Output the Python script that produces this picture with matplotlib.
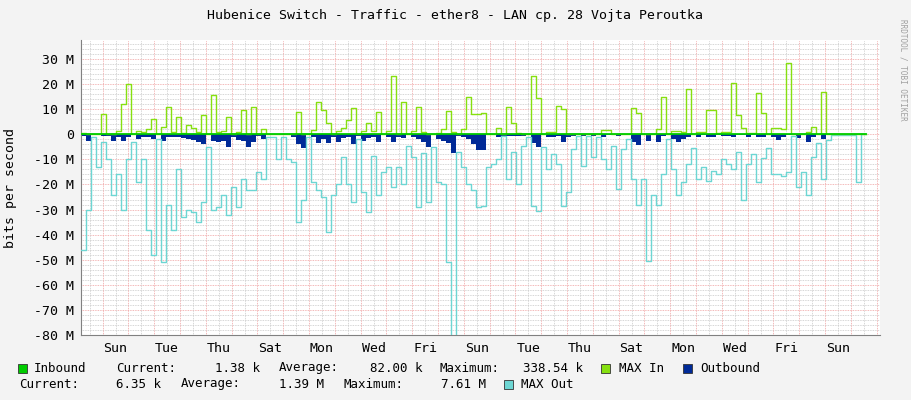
import matplotlib
matplotlib.use("Agg")
import matplotlib.pyplot as plt
from matplotlib.patches import Rectangle
import numpy as np

# values in Mbit/s, one sample per ~4.65 h
MAX_IN = [
    0.7, 0.3, 0, 0, 8, 0, 0.3, 1.3, 12, 20, 0, 1.3, 0.8, 2, 6.3, 0, 3, 11, 0.8, 6.8,
    0.4, 3.6, 2.5, 1, 7.6, 0, 15.6, 1, 1.3, 6.8, 0, 1, 9.6, 0, 11, 0, 2, 0, 0, 0, 0,
    0.3, 0, 8.8, 0, 0, 1.7, 12.8, 9.6, 4.4, 0, 1.3, 2.4, 5.7, 10.4, 0, 1.3, 4.4, 1.3, 8.8, 0,
    1.3, 23.3, 0, 12.8, 0, 1.3, 11, 1, 0, 0, 0.6, 2, 9.3, 1, 0, 2, 14.8, 8, 8,
    8.4, 0, 0, 2.4, 0, 10.8, 4.4, 0.4, 0, 0, 23.3, 14.4, 0, 0.8, 0.8, 11.3, 10, 0.3, 0.3, 0,
    0.3, 0, 0, 0, 1.7, 1.7, 0, 0, 0, 0, 10.4, 8.4, 0, 0, 0, 2, 14.8, 0, 1.3, 1.3,
    0.8, 18, 0, 0.8, 0.8, 9.6, 9.6, 0.4, 0.8, 0.8, 20.4, 7.6, 2.4, 0.4, 0.4, 16.4, 8.4, 0, 2.4, 2.4,
    2, 28.4, 0, 0, 0, 0.8, 2.8, 0, 16.8, 0, 0, 0, 0, 0, 0, 0.3, 0,
]
MAX_OUT = [
    -46, -30, -1, -13, -3, -10, -24, -16, -30, -10, -3, -19, -10, -38, -48, -2, -51, -28, -38, -14,
    -33, -30, -31, -35, -27, -5, -30, -29, -24, -32, -21, -29, -18, -22, -22, -15, -18, -1, -1, -10, -1,
    -10, -11, -35, -26, -1, -19, -22, -25, -39, -24, -20, -9, -20, -27, -2, -23, -31, -8.5, -24, -15,
    -13, -21, -13, -20, -4.5, -9, -29, -7.6, -27, -5, -19, -20, -51, -85, -7, -13, -20, -22, -29,
    -28.7, -13, -12, -10, -0.5, -18, -7, -20, -4.5, -1, -28.5, -30.5, -5, -14, -8, -12, -28.5, -23, -6, -0.5,
    -12.7, -0.5, -9, -1, -10, -14, -4.5, -21.6, -6, -2, -18, -28, -18, -50.5, -24, -28, -16, -2, -14, -24,
    -19, -12, -5.3, -18, -13, -18.7, -14.5, -16, -10, -12, -14, -7, -26, -12, -7.9, -19, -9.6, -5.6, -16, -16,
    -16.7, -15, -0.5, -21, -15, -24, -9, -3.6, -18, -2.3, -0.3, -0.3, -0.3, -0.3, -0.3, -19, 0,
]
OUTBOUND = [
    -0.7, -2.5, -0.4, -0.4, -0.5, -0.5, -2.5, -1.2, -2.5, -1, -0.2, -2, -1.2, -1.2, -1.9, -0.2, -2.5, -1.2, -1, -1,
    -1.3, -2, -2.3, -3, -3.7, -0.3, -2.7, -3, -2.5, -5, -1, -2.3, -2.5, -5, -3.2, -0.5, -1.9, -0.3, -0.3, -0.3, -0.3,
    -0.3, -1, -3.9, -5.6, -0.3, -1, -3.6, -2, -3.6, -1, -3.2, -1.6, -1, -4, -0.5, -2.5, -1.3, -1.2, -3.2, -0.3,
    -1, -3.2, -1.2, -1.6, -0.3, -1.2, -2, -3.2, -5.2, -0.3, -2, -2.5, -3.6, -7.6, -0.5, -1.2, -2, -4, -6.3,
    -6.3, -0.3, -0.3, -1.2, -0.5, -0.5, -0.5, -0.5, -0.5, -0.3, -3.6, -5, -0.3, -1, -1, -0.5, -3.2, -1.2, -0.5, -0.3,
    -0.5, -0.3, -0.5, -0.3, -1.2, -0.3, -0.3, -0.5, -0.3, -0.3, -3, -4.3, -0.3, -2.5, -0.3, -3.2, -0.5, -0.3, -1.9, -3.2,
    -1.9, -1, -0.3, -1.2, -0.3, -1.2, -1, -0.3, -0.5, -0.5, -1.2, -0.3, -0.3, -1.2, -0.3, -1, -1, -0.3, -1.2, -2.3,
    -1, -0.3, -0.3, -1.6, -0.3, -3, -1, -0.3, -1.9, -0.3, 0, 0, 0, 0, 0, 0, 0,
]
DAY_LABELS = ["Sun", "Tue", "Thu", "Sat", "Mon", "Wed", "Fri", "Sun",
              "Tue", "Thu", "Sat", "Mon", "Wed", "Fri", "Sun"]
Y_TICKS = [30, 20, 10, 0, -10, -20, -30, -40, -50, -60, -70, -80]

FONT = "DejaVu Sans Mono"
FS = 9
W, H = 911, 400
PX_PER_DAY = 25.8
DT = 5 / PX_PER_DAY
FIRST_MIDNIGHT = 0.84

fig = plt.figure(figsize=(W / 100, H / 100), dpi=100, facecolor="#f3f3f3")
x0, x1, ytop, ybot = 81, 880, 40, 335
ax = fig.add_axes([x0 / W, 1 - ybot / H, (x1 - x0) / W, (ybot - ytop) / H])
ax.set_facecolor("white")
xmax = (x1 - x0) / PX_PER_DAY
ax.set_xlim(0, xmax)
ax.set_ylim(-80, (134 - ytop) / 2.5)

# grid
for y in np.arange(-80, 38, 2):
    if y % 10:
        ax.axhline(y, color="#c8c8c8", lw=0.6, ls=(0, (1, 1)), zorder=0)
for y in Y_TICKS:
    ax.axhline(y, color="#f0a0a0", lw=0.6, ls=(0, (1, 1)), zorder=0)
d = FIRST_MIDNIGHT - 1
while d < xmax:
    if d > 0:
        ax.axvline(d, color="#f0a0a0", lw=0.6, ls=(0, (1, 1)), zorder=0)
    if 0 < d + 0.5 < xmax:
        ax.axvline(d + 0.5, color="#c8c8c8", lw=0.6, ls=(0, (1, 1)), zorder=0)
    d += 1

def steps(vals):
    xs = np.arange(len(vals) + 1) * DT
    return xs, list(vals) + [vals[-1]]

xs, ys = steps(OUTBOUND)
ax.fill_between(xs, ys, 0, step="post", color="#002a97", lw=0, zorder=2)
xs, ys = steps(MAX_OUT)
ax.step(xs, ys, where="post", color="#6dd6d3", lw=1.0, zorder=3)
xs, ys = steps(MAX_IN)
ax.step(xs, ys, where="post", color="#86e010", lw=1.0, zorder=3)
ax.plot([0, len(MAX_IN) * DT], [0, 0], color="#00cc00", lw=1.3, zorder=4)

for s in ["top", "right"]:
    ax.spines[s].set_visible(False)
ax.spines["left"].set_color("#808080")
ax.spines["bottom"].set_color("#808080")
ax.set_yticks(Y_TICKS)
ax.set_yticklabels([f"{v} M" if v else "0" for v in Y_TICKS], fontfamily=FONT, fontsize=9.5)
ax.set_xticks([FIRST_MIDNIGHT + 0.5 + 2 * i for i in range(len(DAY_LABELS))])
ax.set_xticklabels(DAY_LABELS, fontfamily=FONT, fontsize=9.5)
ax.tick_params(length=0, pad=5)
ax.set_ylabel("bits per second", fontfamily=FONT, fontsize=9.5, labelpad=12)

fig.text(455 / W, 1 - 15 / H, "Hubenice Switch - Traffic - ether8 - LAN cp. 28 Vojta Peroutka",
         ha="center", va="center", fontfamily=FONT, fontsize=9.5)
fig.text(903 / W, 1 - 70 / H, "RRDTOOL / TOBI OETIKER", rotation=270, ha="center", va="center",
         fontfamily=FONT, fontsize=5.5, color="#a0a0a0")

def legend_box(px, py, color):
    fig.patches.append(Rectangle((px / W, 1 - (py + 5) / H), 9 / W, 9 / H, transform=fig.transFigure,
                                 facecolor=color, edgecolor="#333333", lw=0.6))

def txt(px, py, s, ha="left"):
    fig.text(px / W, 1 - py / H, s, ha=ha, va="center", fontfamily=FONT, fontsize=FS)

row1, row2 = 368, 384
legend_box(18, row1, "#00cc00")
txt(34, row1, "Inbound")
txt(116, row1, "Current:")
txt(260, row1, "1.38 k", ha="right")
txt(279, row1, "Average:")
txt(422, row1, "82.00 k", ha="right")
txt(440, row1, "Maximum:")
txt(583, row1, "338.54 k", ha="right")
legend_box(601, row1, "#86e010")
txt(619, row1, "MAX In")
legend_box(683, row1, "#002a97")
txt(700, row1, "Outbound")
txt(19, row2, "Current:")
txt(161, row2, "6.35 k", ha="right")
txt(181, row2, "Average:")
txt(324, row2, "1.39 M", ha="right")
txt(343, row2, "Maximum:")
txt(486, row2, "7.61 M", ha="right")
legend_box(504, row2, "#6dd6d3")
txt(521, row2, "MAX Out")

fig.savefig("out.png", dpi=100, facecolor=fig.get_facecolor())
